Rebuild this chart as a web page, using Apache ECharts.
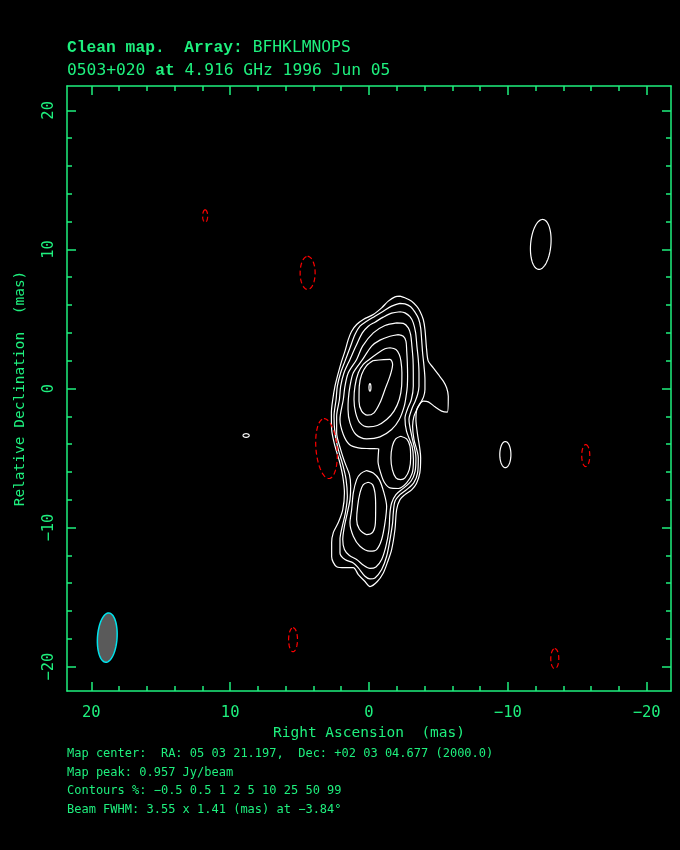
<!DOCTYPE html>
<html><head><meta charset="utf-8">
<script src="https://cdn.jsdelivr.net/npm/echarts@6/dist/echarts.min.js"></script>
<style>html,body{margin:0;padding:0;background:#000;}#c{width:680px;height:850px;}</style>
</head><body><div id="c"></div>
<script>
// ---- data (mas) ----
const contourLevels = [-0.5, 0.5, 1, 2, 5, 10, 25, 50, 99];
const majorTicks = [-20, -10, 0, 10, 20];
const minorTicks = [-20,-18,-16,-14,-12,-10,-8,-6,-4,-2,0,2,4,6,8,10,12,14,16,18,20];

const contour0p5 = [[-2.23,6.64],[-2.59,6.52],[-3.07,6.28],[-3.43,5.92],[-3.67,5.56],[-3.91,4.96],[-4.03,4.24],[-4.15,2.81],[-4.27,1.97],[-4.63,1.49],[-4.99,1.01],[-5.35,0.53],[-5.59,0.05],[-5.71,-0.55],[-5.64,-1.70],[-5.23,-1.63],[-4.75,-1.32],[-4.27,-0.96],[-3.91,-0.91],[-3.62,-1.15],[-3.43,-1.56],[-3.38,-2.23],[-3.48,-3.19],[-3.72,-4.99],[-3.66,-6.07],[-3.42,-6.83],[-3.07,-7.29],[-2.59,-7.63],[-2.23,-7.99],[-1.99,-8.71],[-1.87,-10.14],[-1.63,-11.58],[-1.32,-12.52],[-1.03,-13.26],[-0.60,-13.88],[-0.07,-14.24],[0.29,-13.88],[0.77,-13.38],[1.13,-12.88],[1.73,-12.88],[2.33,-12.81],[2.69,-12.09],[2.69,-11.08],[2.57,-10.36],[2.21,-9.64],[1.89,-8.71],[1.77,-7.51],[1.89,-6.31],[2.13,-5.23],[2.45,-4.15],[2.69,-2.95],[2.71,-1.75],[2.61,-0.79],[2.45,0.17],[2.21,1.13],[1.97,1.97],[1.73,2.69],[1.49,3.53],[1.25,4.12],[0.89,4.60],[0.41,4.96],[-0.31,5.32],[-0.91,5.80],[-1.39,6.28],[-1.87,6.59],[-2.23,6.64]];
const contour1 = [[-2.23,6.12],[-2.59,6.09],[-3.00,5.88],[-3.31,5.49],[-3.57,5.01],[-3.72,4.36],[-3.79,3.53],[-3.86,2.57],[-3.96,1.61],[-4.03,0.65],[-4.03,-0.07],[-3.93,-0.60],[-3.74,-0.98],[-3.48,-1.44],[-3.24,-1.99],[-3.14,-2.71],[-3.24,-3.67],[-3.55,-4.99],[-3.50,-6.07],[-3.22,-6.79],[-2.71,-7.27],[-2.23,-7.63],[-1.87,-8.11],[-1.75,-8.94],[-1.70,-9.66],[-1.51,-10.86],[-1.27,-12.06],[-0.91,-13.02],[-0.43,-13.62],[-0.07,-13.69],[0.29,-13.50],[0.77,-12.90],[1.13,-12.54],[1.73,-12.30],[2.09,-11.82],[2.09,-10.86],[1.92,-9.90],[1.70,-8.94],[1.56,-7.75],[1.65,-6.55],[1.89,-5.47],[2.21,-4.39],[2.45,-3.19],[2.52,-1.99],[2.37,-0.79],[2.28,0.17],[2.04,1.13],[1.73,1.97],[1.37,2.93],[1.01,3.88],[0.65,4.48],[0.17,4.84],[-0.43,5.20],[-1.03,5.56],[-1.63,5.92],[-2.23,6.12]];
const contour2 = [[-2.23,5.52],[-2.59,5.44],[-2.95,5.16],[-3.19,4.72],[-3.36,4.00],[-3.45,3.05],[-3.55,2.09],[-3.60,1.13],[-3.60,0.17],[-3.50,-0.43],[-3.33,-0.91],[-3.09,-1.46],[-2.88,-2.23],[-3.08,-3.43],[-3.38,-4.99],[-3.32,-5.95],[-3.02,-6.67],[-2.42,-7.22],[-1.94,-7.63],[-1.63,-8.23],[-1.51,-8.94],[-1.44,-10.14],[-1.22,-11.34],[-0.91,-12.30],[-0.50,-12.83],[-0.07,-12.93],[0.36,-12.73],[0.89,-12.30],[1.41,-12.01],[1.77,-11.58],[1.89,-10.86],[1.77,-9.90],[1.56,-8.94],[1.37,-7.99],[1.32,-7.03],[1.41,-6.19],[1.73,-5.35],[2.04,-4.39],[2.33,-3.19],[2.33,-1.99],[2.13,-0.79],[2.04,0.17],[1.80,1.13],[1.37,2.09],[0.94,3.05],[0.48,4.00],[0.05,4.48],[-0.43,4.77],[-1.03,5.13],[-1.63,5.42],[-2.23,5.52]];
const contour5 = [[-1.99,4.72],[-2.47,4.68],[-2.83,4.36],[-3.00,3.88],[-3.09,3.05],[-3.17,2.09],[-3.19,1.13],[-3.19,0.17],[-3.05,-0.79],[-2.76,-1.51],[-2.59,-2.11],[-2.70,-3.07],[-3.10,-4.15],[-3.20,-5.11],[-3.12,-6.07],[-2.71,-6.79],[-2.11,-7.19],[-1.51,-7.15],[-1.10,-6.74],[-0.84,-6.07],[-0.65,-5.23],[-0.70,-4.34],[-0.07,-4.32],[0.77,-4.27],[1.41,-4.03],[1.85,-3.31],[2.09,-2.23],[1.85,-0.79],[1.73,0.17],[1.49,1.13],[0.89,2.09],[0.46,3.05],[-0.31,4.00],[-1.15,4.53],[-1.99,4.72]];
const contour5South = [[0.17,-5.90],[-0.31,-6.07],[-0.74,-6.55],[-1.08,-7.51],[-1.27,-8.47],[-1.15,-9.66],[-0.91,-10.86],[-0.55,-11.58],[-0.07,-11.70],[0.65,-11.34],[1.13,-10.62],[1.37,-9.66],[1.25,-8.71],[1.13,-7.51],[0.89,-6.55],[0.60,-6.12],[0.17,-5.90]];
const contour10 = [[-2.11,3.88],[-2.47,3.76],[-2.66,3.41],[-2.71,2.81],[-2.76,1.85],[-2.78,0.89],[-2.76,0.17],[-2.69,-0.43],[-2.54,-1.27],[-2.18,-2.23],[-1.63,-2.95],[-0.79,-3.48],[0.17,-3.62],[0.94,-3.31],[1.37,-2.47],[1.51,-1.51],[1.49,-0.79],[1.37,0.17],[1.13,1.13],[0.46,2.09],[-0.19,3.05],[-0.79,3.48],[-1.51,3.76],[-2.11,3.88]];
const contour10East = [[-2.28,-3.43],[-2.71,-3.62],[-2.95,-4.15],[-3.00,-4.99],[-2.90,-5.83],[-2.59,-6.43],[-2.28,-6.55],[-1.94,-6.43],[-1.68,-5.83],[-1.58,-4.99],[-1.68,-4.15],[-1.92,-3.62],[-2.28,-3.43]];
const contour10South = [[0.05,-6.74],[-0.26,-6.91],[-0.43,-7.51],[-0.48,-8.47],[-0.46,-9.66],[-0.26,-10.34],[0.17,-10.50],[0.70,-10.10],[0.89,-9.42],[0.82,-8.47],[0.65,-7.51],[0.41,-6.91],[0.05,-6.74]];
const contour25 = [[-1.51,2.93],[-1.94,2.81],[-2.18,2.45],[-2.30,1.97],[-2.37,1.13],[-2.35,0.17],[-2.18,-0.79],[-1.80,-1.63],[-1.27,-2.23],[-0.60,-2.66],[0.05,-2.76],[0.65,-2.47],[0.96,-1.75],[1.08,-0.79],[1.01,0.17],[0.77,1.13],[0.41,1.73],[-0.02,2.09],[-0.60,2.52],[-1.15,2.86],[-1.51,2.93]];
const contour50 = [[-0.31,2.01],[-1.51,2.09],[-1.70,1.73],[-1.51,0.89],[-1.15,-0.07],[-0.79,-1.03],[-0.36,-1.75],[0.12,-1.92],[0.53,-1.63],[0.72,-0.91],[0.70,0.17],[0.53,1.01],[0.17,1.65],[-0.31,2.01]];

// small closed contours: [centreRA, centreDec, halfWidthRA, halfHeightDec, PA deg]
const positiveIslands = [[-12.37,10.36,0.73,1.80,-5],[-9.82,-4.75,0.40,0.94,0],[8.85,-3.38,0.22,0.13,0],[-0.07,0.08,0.07,0.27,0]];
const negativeIslands = [[11.8,12.4,0.18,0.45,0],[4.42,8.31,0.54,1.19,0],[3.06,-4.32,0.76,2.16,5],[-15.61,-4.82,0.29,0.79,0],[5.47,-18.06,0.32,0.86,0],[-13.38,-19.42,0.29,0.72,0]];
const beamCentre = [18.85, -17.91];
const beamMajor = 3.55, beamMinor = 1.41, beamPA = -3.84;

const sourceName = '0503+020', freq = '4.916 GHz', obsDate = '1996 Jun 05', arrayName = 'BFHKLMNOPS';
const mapCentre = 'RA: 05 03 21.197,  Dec: +02 03 04.677 (2000.0)';
const mapPeak = '0.957 Jy/beam';

// ---- chart ----
const G = '#1ef07e';
const MONO = '"DejaVu Sans Mono", monospace';
const ROMAN = '"Liberation Mono", "Courier New", monospace';
const fmt = v => (v < 0 ? '\u2212' + Math.abs(v) : String(v));
const RANGE = 21.75;

const footerLines = [
  'Map center:  ' + mapCentre,
  'Map peak: ' + mapPeak,
  'Contours %: ' + contourLevels.map(fmt).join(' '),
  'Beam FWHM: ' + beamMajor.toFixed(2) + ' x ' + beamMinor.toFixed(2) + ' (mas) at ' + fmt(beamPA) + '\u00b0'
];

function lineSeries(data, color) {
  return {type:'line', data:data, xAxisIndex:0, yAxisIndex:0, showSymbol:false, symbol:'none',
    smooth:0.3, lineStyle:{color:color, width:1.2}, silent:true, animation:false, z:3};
}
function ellipseSeries(data, fill, stroke, dash, width) {
  return {type:'custom', coordinateSystem:'cartesian2d', xAxisIndex:0, yAxisIndex:0, data:data,
    silent:true, animation:false, z:4, encode:{x:0, y:1},
    renderItem: function(params, api) {
      const cx = api.value(0), cy = api.value(1), rx = api.value(2), ry = api.value(3);
      const pa = api.value(4) * Math.PI / 180;
      const c = api.coord([cx, cy]);
      const sx = Math.abs(api.coord([cx + 1, cy])[0] - c[0]);
      const sy = Math.abs(api.coord([cx, cy + 1])[1] - c[1]);
      const pts = [];
      const n = 72;
      for (let i = 0; i < n; i++) {
        const t = 2 * Math.PI * i / n;
        const a = ry * Math.cos(t), b = rx * Math.sin(t);
        pts.push([c[0] + (-a * Math.sin(pa) + b * Math.cos(pa)) * sx,
                  c[1] + (-a * Math.cos(pa) - b * Math.sin(pa)) * sy]);
      }
      return {type:'polygon', shape:{points:pts},
        style:{fill:fill, stroke:stroke, lineWidth:width, lineDash:dash}};
    }};
}

const lineC = {color:G, width:1.5};
function xAx(grid, pos, ticks, len, showLine, labels) {
  const a = {type:'value', gridIndex:grid, position:pos, min:-RANGE, max:RANGE, inverse:true,
    splitLine:{show:false},
    axisLine:{show:showLine, onZero:false, lineStyle:lineC},
    axisTick:{show:true, inside:true, length:len, customValues:ticks, lineStyle:lineC},
    axisLabel:{show:false}};
  if (labels) {
    a.axisLabel = {show:true, customValues:majorTicks, formatter:fmt, color:G, fontFamily:MONO, fontSize:15.5, margin:14};
    a.name = 'Right Ascension  (mas)';
    a.nameLocation = 'middle'; a.nameGap = 32;
    a.nameTextStyle = {color:G, fontFamily:MONO, fontSize:14.5};
  }
  return a;
}
function yAx(grid, pos, ticks, len, showLine, labels) {
  const a = {type:'value', gridIndex:grid, position:pos, min:-RANGE, max:RANGE,
    splitLine:{show:false},
    axisLine:{show:showLine, onZero:false, lineStyle:lineC},
    axisTick:{show:true, inside:true, length:len, customValues:ticks, lineStyle:lineC},
    axisLabel:{show:false}};
  if (labels) {
    a.axisLabel = {show:true, customValues:majorTicks, formatter:fmt, color:G, fontFamily:MONO, fontSize:15.5, margin:10, rotate:90};
    a.name = 'Relative Declination  (mas)';
    a.nameLocation = 'middle'; a.nameGap = 39; a.nameRotate = 90;
    a.nameTextStyle = {color:G, fontFamily:MONO, fontSize:14.5};
  }
  return a;
}

const gridBox = {left:67, right:9, top:86, bottom:159, outerBoundsMode:'none'};
const chart = echarts.init(document.getElementById('c'), null, {renderer:'canvas'});
chart.setOption({
  backgroundColor:'#000',
  animation:false,
  grid:[Object.assign({}, gridBox), Object.assign({}, gridBox)],
  xAxis:[xAx(0,'bottom',majorTicks,9,true,true), xAx(0,'top',majorTicks,9,true,false),
         xAx(1,'bottom',minorTicks,5,false,false), xAx(1,'top',minorTicks,5,false,false)],
  yAxis:[yAx(0,'left',majorTicks,9,true,true), yAx(0,'right',majorTicks,9,true,false),
         yAx(1,'left',minorTicks,5,false,false), yAx(1,'right',minorTicks,5,false,false)],
  title:[
    {left:67, top:40, padding:0,
     text:'{r|Clean map.  Array:} {s|' + arrayName + '}',
     textStyle:{color:G, fontFamily:MONO, fontSize:16.3, fontWeight:'normal',
       rich:{r:{color:G, fontFamily:ROMAN, fontSize:16.3, fontWeight:'bold'},
             s:{color:G, fontFamily:MONO, fontSize:16.3}}}},
    {left:67, top:63, padding:0,
     text:'{s|' + sourceName + ' }{r|at}{s| ' + freq + ' ' + obsDate + '}',
     textStyle:{color:G, fontFamily:MONO, fontSize:16.3, fontWeight:'normal',
       rich:{r:{color:G, fontFamily:ROMAN, fontSize:16.3, fontWeight:'bold'},
             s:{color:G, fontFamily:MONO, fontSize:16.3}}}},
    {left:67, top:745, padding:0, text:footerLines.join('\n'),
     textStyle:{color:G, fontFamily:MONO, fontSize:12, fontWeight:'normal', lineHeight:18.4}}
  ],
  series:[
    lineSeries(contour0p5,'#ffffff'), lineSeries(contour1,'#ffffff'), lineSeries(contour2,'#ffffff'),
    lineSeries(contour5,'#ffffff'), lineSeries(contour5South,'#ffffff'),
    lineSeries(contour10,'#ffffff'), lineSeries(contour10East,'#ffffff'), lineSeries(contour10South,'#ffffff'),
    lineSeries(contour25,'#ffffff'), lineSeries(contour50,'#ffffff'),
    ellipseSeries(positiveIslands, 'none', '#ffffff', null, 1.2),
    ellipseSeries(negativeIslands, 'none', '#ff0000', [5,3], 1.2),
    ellipseSeries([[beamCentre[0], beamCentre[1], beamMinor/2, beamMajor/2, beamPA]], '#5a5a5a', '#00e5ee', null, 1.5)
  ]
});
</script>
</body></html>
